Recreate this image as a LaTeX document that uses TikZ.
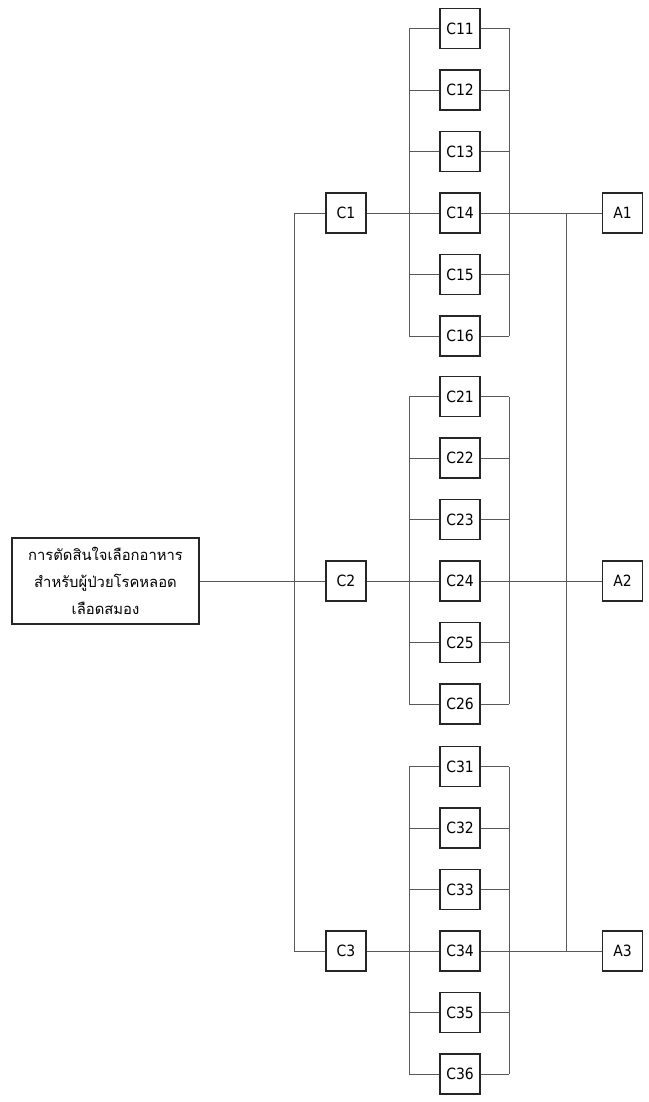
\documentclass[tikz,border=0pt]{standalone}
\usepackage{fontspec}
\setmainfont{DejaVu Sans Condensed}
\newfontfamily\thaifont[Script=Thai]{Loma}
\begin{document}
\begin{tikzpicture}[x=1pt,y=-1pt]
\tikzset{
  box/.style={draw=black!85, line width=1.1pt, minimum width=40pt, minimum height=40pt,
    inner sep=0pt, fill=white, font=\fontsize{15.5}{18}\selectfont},
  conn/.style={draw=black!65, line width=0.8pt}
}
\fill[white] (0,0) rectangle (648,1102);
\useasboundingbox (0,0) rectangle (648,1102);
% coordinates of the bus lines
\coordinate (LB) at (294,0);
\coordinate (IL) at (409,0);
\coordinate (IR) at (509,0);
\coordinate (RB) at (566,0);
% title
\node[box, align=center, minimum width=187pt, minimum height=86pt,
      font=\thaifont\fontsize{14.8}{27}\selectfont] (T) at (105.5,581)
  {การตัดสินใจเลือกอาหาร\\สำหรับผู้ป่วยโรคหลอด\\เลือดสมอง};
% criteria
\node[box] (C1) at (346,213) {C1};
\node[box] (C2) at (346,581) {C2};
\node[box] (C3) at (346,951) {C3};
% alternatives
\node[box] (A1) at (622.5,213) {A1};
\node[box] (A2) at (622.5,581) {A2};
\node[box] (A3) at (622.5,951) {A3};
% sub-criteria
\foreach \g/\gy in {1/213,2/581,3/951}{
  \foreach \i in {1,...,6}{
    \node[box] (C\g\i) at (460,{\gy+(\i-4)*61.5}) {C\g\i};
  }
}
% connectors
\draw[conn] (T.east) -- (C2.west);
\draw[conn] (C1.west) -- (C1.west -| LB) -- (C3.west -| LB) -- (C3.west);
\draw[conn] (C14.east -| RB) -- (C34.east -| RB);
\draw[conn] (C14.east) -- (A1.west);
\draw[conn] (C24.east) -- (A2.west);
\draw[conn] (C34.east) -- (A3.west);
\foreach \g in {1,2,3}{
  \draw[conn] (C\g.east) -- (C\g4.west);
  \draw[conn] (C\g1.west -| IL) -- (C\g6.west -| IL);
  \draw[conn] (C\g1.east -| IR) -- (C\g6.east -| IR);
  \foreach \i in {1,2,3,5,6}{
    \draw[conn] (C\g\i.west -| IL) -- (C\g\i.west);
    \draw[conn] (C\g\i.east) -- (C\g\i.east -| IR);
  }
}
\end{tikzpicture}
\end{document}
